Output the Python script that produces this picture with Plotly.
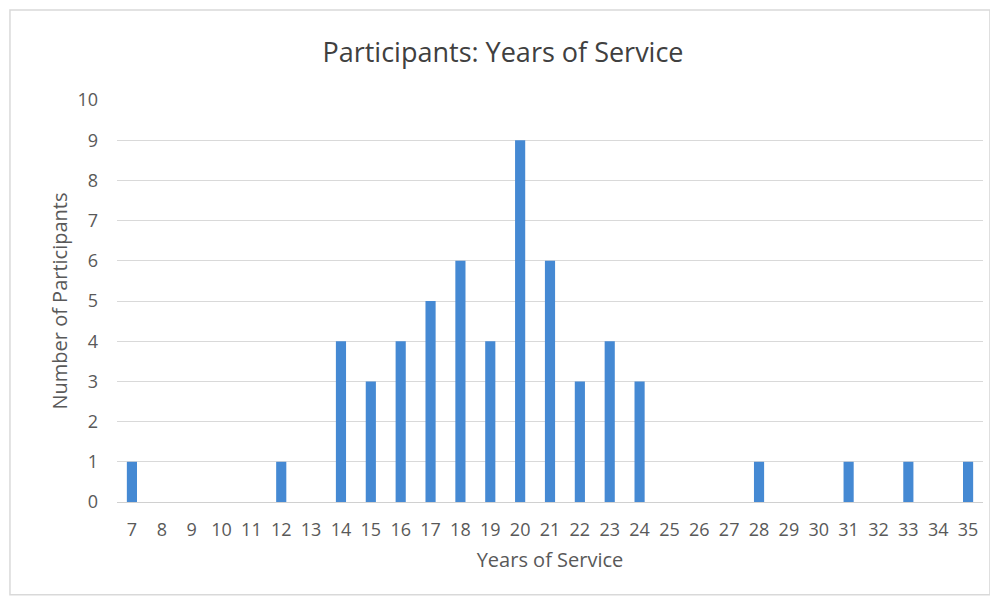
import plotly.graph_objects as go

years = list(range(7, 36))
participants = [1, 0, 0, 0, 0, 1, 0, 4, 3, 4, 5, 6, 4, 9, 6, 3, 4, 3,
                0, 0, 0, 1, 0, 0, 1, 0, 1, 0, 1]
y_ticks = list(range(0, 11))

fig = go.Figure()
fig.add_trace(go.Bar(x=[str(y) for y in years], y=participants,
                     marker=dict(color="#4589D3", line=dict(width=0)),
                     name="Participants"))

# page body adds an 8px offset, so the figure is sized/margined to compensate
fig.update_layout(
    width=990, height=591,
    paper_bgcolor="white", plot_bgcolor="white",
    margin=dict(l=109, r=15, t=92, b=97),
    bargap=0.66,
    showlegend=False,
    font=dict(family="Open Sans, Liberation Sans, sans-serif", color="#595959"),
    title=dict(text="Participants: Years of Service", x=0.5, xanchor="center",
               y=0.925, yanchor="middle",
               font=dict(size=27, color="#404040")),
    xaxis=dict(type="category", showgrid=False, ticks="",
               ticklabelstandoff=15,
               tickfont=dict(size=18, color="#595959"),
               title=dict(text="Years of Service", standoff=12,
                          font=dict(size=20, color="#595959"))),
    yaxis=dict(range=[0, 10], tickvals=y_ticks, showgrid=True,
               gridcolor="#d9d9d9", gridwidth=1, zeroline=True,
               zerolinecolor="#d0d0d0", zerolinewidth=1, ticks="",
               ticklabelstandoff=18,
               tickfont=dict(size=18, color="#595959"),
               title=dict(text="Number of Participants", standoff=4,
                          font=dict(size=20, color="#595959"))),
    shapes=[dict(type="rect", xref="paper", yref="paper",
                 x0=-0.1236, x1=1.008, y0=-0.231, y1=1.224,
                 line=dict(color="#d9d9d9", width=1.5), layer="below")],
)

fig.write_html("out.html")
